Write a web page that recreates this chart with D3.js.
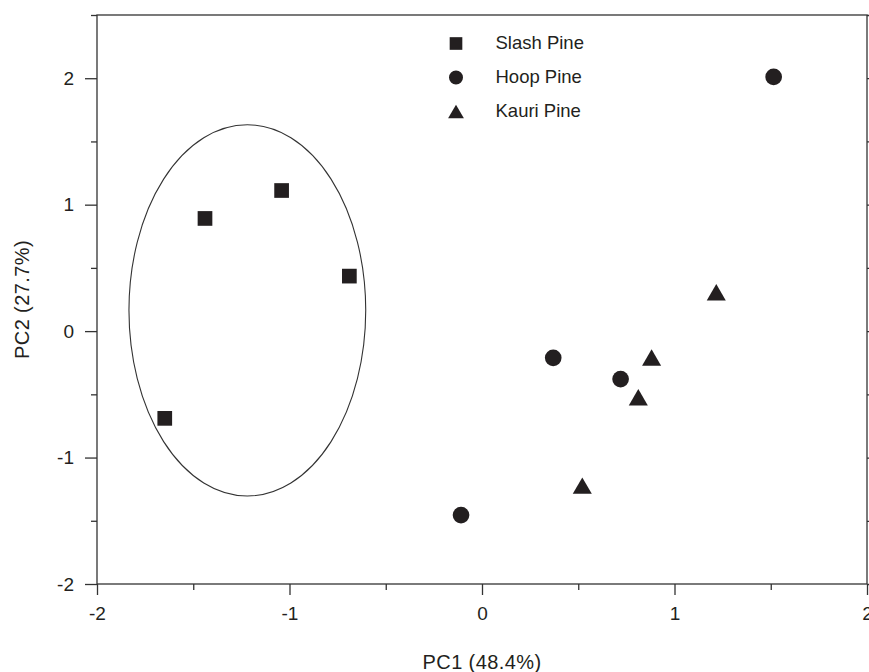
<!DOCTYPE html>
<html>
<head>
<meta charset="utf-8">
<script src="https://cdn.jsdelivr.net/npm/d3@7"></script>
<style>
  body { margin: 0; background: #fff; }
  svg { display: block; font-family: Arial, "Liberation Sans", Helvetica, sans-serif; }
  .axis text { font-size: 19px; fill: #231f20; }
  .axis line { stroke: #333; stroke-width: 1.3; }
</style>
</head>
<body>
<div id="chart"></div>
<script>
// PCA scores
var slashPC1 = [-1.041, -1.439, -0.689, -1.648],
    slashPC2 = [1.112, 0.891, 0.435, -0.690],
    hoopPC1 = [1.515, 0.370, 0.720, -0.109],
    hoopPC2 = [2.010, -0.211, -0.379, -1.455],
    kauriPC1 = [1.217, 0.881, 0.812, 0.521],
    kauriPC2 = [0.307, -0.208, -0.523, -1.222],
    seriesNames = ['Slash Pine', 'Hoop Pine', 'Kauri Pine'],
    majorTicks = [-2, -1, 0, 1, 2],
    minorTicksX = [-1.5, -0.5, 0.5, 1.5],
    minorTicksY = [-1.5, -0.5, 0.5, 1.5, 2.5],
    // confidence ellipse around the slash pine group: centre and radii
    ellipseCentre = [-1.219, 0.164],
    ellipseRadii = [0.615, 1.468];

var width = 869,
    height = 672,
    margin = {top: 15, right: 2, bottom: 88, left: 97};

var x = d3.scaleLinear().domain([-2, 2]).range([margin.left, width - margin.right]),
    y = d3.scaleLinear().domain([-2, 2.5]).range([height - margin.bottom, margin.top]);

// plain hyphen for negatives, as in the original figure
function tickLabel(d) { return String(d); }

var svg = d3.select('#chart').append('svg')
    .attr('width', width)
    .attr('height', height);

// Bottom axis: major + minor ticks
svg.append('g')
  .attr('class', 'axis')
  .attr('transform', 'translate(0,' + y(-2) + ')')
  .call(d3.axisBottom(x).tickValues(majorTicks).tickSize(11).tickSizeOuter(0).tickPadding(12).tickFormat(tickLabel))
  .call(function(g) { g.select('.domain').remove(); });

svg.append('g')
  .attr('class', 'axis')
  .attr('transform', 'translate(0,' + y(-2) + ')')
  .call(d3.axisBottom(x).tickValues(minorTicksX).tickSize(6).tickSizeOuter(0).tickFormat(''))
  .call(function(g) { g.select('.domain').remove(); });

// Left axis
svg.append('g')
  .attr('class', 'axis')
  .attr('transform', 'translate(' + x(-2) + ',0)')
  .call(d3.axisLeft(y).tickValues(majorTicks).tickSize(12).tickSizeOuter(0).tickPadding(11).tickFormat(tickLabel))
  .call(function(g) { g.select('.domain').remove(); });

svg.append('g')
  .attr('class', 'axis')
  .attr('transform', 'translate(' + x(-2) + ',0)')
  .call(d3.axisLeft(y).tickValues(minorTicksY).tickSize(6).tickSizeOuter(0).tickFormat(''))
  .call(function(g) { g.select('.domain').remove(); });

// Right axis (ticks only, they run off the page)
svg.append('g')
  .attr('class', 'axis')
  .attr('transform', 'translate(' + x(2) + ',0)')
  .call(d3.axisRight(y).tickValues(majorTicks.concat(minorTicksY)).tickSize(6).tickSizeOuter(0).tickFormat(''))
  .call(function(g) { g.select('.domain').remove(); });

// Frame
svg.append('rect')
  .attr('x', x(-2))
  .attr('y', y(2.5))
  .attr('width', x(2) - x(-2))
  .attr('height', y(-2) - y(2.5))
  .attr('fill', 'none')
  .attr('stroke', '#333')
  .attr('stroke-width', 1.3);

// Axis titles
svg.append('text')
  .attr('x', x(0))
  .attr('y', 669)
  .attr('text-anchor', 'middle')
  .style('font-size', '20px')
  .style('letter-spacing', '0.4px')
  .attr('fill', '#231f20')
  .text('PC1 (48.4%)');

svg.append('text')
  .attr('transform', 'translate(28.5,' + y(0.25) + ') rotate(-90)')
  .attr('text-anchor', 'middle')
  .style('font-size', '20px')
  .style('letter-spacing', '0.4px')
  .attr('fill', '#231f20')
  .text('PC2 (27.7%)');

// Ellipse
svg.append('ellipse')
  .attr('cx', x(ellipseCentre[0]))
  .attr('cy', y(ellipseCentre[1]))
  .attr('rx', x(ellipseCentre[0] + ellipseRadii[0]) - x(ellipseCentre[0]))
  .attr('ry', y(ellipseCentre[1] - ellipseRadii[1]) - y(ellipseCentre[1]))
  .attr('fill', 'none')
  .attr('stroke', '#333')
  .attr('stroke-width', 1.1);

var markFill = '#231f20',
    square = d3.symbol().type(d3.symbolSquare).size(216),
    circle = d3.symbol().type(d3.symbolCircle).size(219),
    triangle = d3.symbol().type(d3.symbolTriangle).size(157);

function pairs(a, b) {
  return a.map(function(v, i) { return [v, b[i]]; });
}

// Slash pine squares
svg.append('g').selectAll('path')
  .data(pairs(slashPC1, slashPC2))
  .enter().append('path')
  .attr('d', square)
  .attr('transform', function(d) { return 'translate(' + x(d[0]) + ',' + y(d[1]) + ')'; })
  .attr('fill', markFill);

// Hoop pine circles
svg.append('g').selectAll('path')
  .data(pairs(hoopPC1, hoopPC2))
  .enter().append('path')
  .attr('d', circle)
  .attr('transform', function(d) { return 'translate(' + x(d[0]) + ',' + y(d[1]) + ')'; })
  .attr('fill', markFill);

// Kauri pine triangles (shifted so the bounding box is centred on the point)
svg.append('g').selectAll('path')
  .data(pairs(kauriPC1, kauriPC2))
  .enter().append('path')
  .attr('d', triangle)
  .attr('transform', function(d) { return 'translate(' + x(d[0]) + ',' + (y(d[1]) + 2.75) + ')'; })
  .attr('fill', markFill);

// Legend
var legendSymbols = [
  d3.symbol().type(d3.symbolSquare).size(160),
  d3.symbol().type(d3.symbolCircle).size(154),
  d3.symbol().type(d3.symbolTriangle).size(108)
];
var legendOffsets = [0, 0, 2.3];

var legend = svg.append('g').selectAll('g')
  .data(seriesNames)
  .enter().append('g')
  .attr('transform', function(d, i) { return 'translate(456,' + (43.5 + i * 34) + ')'; });

legend.append('path')
  .attr('d', function(d, i) { return legendSymbols[i](); })
  .attr('transform', function(d, i) { return 'translate(0,' + legendOffsets[i] + ')'; })
  .attr('fill', markFill);

legend.append('text')
  .attr('x', 39.5)
  .attr('y', 5)
  .style('font-size', '18.5px')
  .attr('fill', '#231f20')
  .text(function(d) { return d; });
</script>
</body>
</html>
